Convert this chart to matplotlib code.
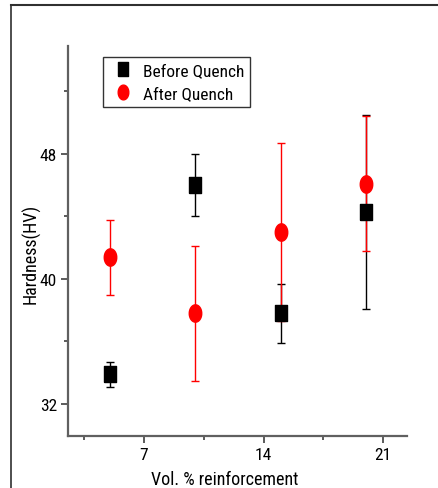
import numpy as np
import matplotlib
matplotlib.use('Agg')
import matplotlib.pyplot as plt
from matplotlib.lines import Line2D

plt.rcParams['font.family'] = ['Roboto Condensed', 'Liberation Sans', 'DejaVu Sans']

# data
vol = [5, 10, 15, 20]
before = [33.9, 46.0, 37.8, 44.3]
before_err = [0.8, 2.0, 1.9, 6.2]
after = [41.4, 37.8, 43.0, 46.1]
after_err = [2.4, 4.3, 5.7, 4.3]
xticks = [7, 14, 21]
yticks = [32, 40, 48]

# tall ellipse marker (the original picture is stretched vertically)
t = np.linspace(0, 2*np.pi, 40)
ell = list(zip(0.72*np.cos(t), np.sin(t)))
sq = [(-0.7, -1), (0.7, -1), (0.7, 1), (-0.7, 1), (-0.7, -1)]

fig = plt.figure(figsize=(4.38, 4.89), dpi=100)
ax = fig.add_axes([68/438, 1-437/489, 339/438, 390/489])

ax.errorbar(vol, before, yerr=before_err, fmt='none', ecolor='black', elinewidth=1, capsize=3, capthick=1)
ax.errorbar(vol, after, yerr=after_err, fmt='none', ecolor='red', elinewidth=1, capsize=3, capthick=1)
ax.plot(vol, before, linestyle='none', marker=sq, markersize=12, color='black', label='Before Quench')
ax.plot(vol, after, linestyle='none', marker=ell, markersize=12.5, color='red', label='After Quench')

ax.set_xlim(2.55, 22.4)
ax.set_ylim(29.95, 54.9)
ax.set_xticks(xticks)
ax.set_xticks([3.5, 10.5, 17.5], minor=True)
ax.set_yticks(yticks)
ax.set_yticks([36, 44, 52], minor=True)

for s in ['top', 'right']:
    ax.spines[s].set_visible(False)
for s in ['left', 'bottom']:
    ax.spines[s].set_color('#606060')
    ax.spines[s].set_linewidth(1.6)
ax.tick_params(which='major', direction='out', length=5, width=1.2, color='#404040', labelsize=12.5, pad=3)
ax.tick_params(which='minor', direction='out', length=3, width=1.2, color='#404040')

ax.set_xlabel('Vol. % reinforcement', fontsize=13)
ax.set_ylabel('Hardness(HV)', fontsize=13)
ax.xaxis.set_label_coords(0.462, -0.087)
ax.yaxis.set_label_coords(-0.08, 0.469)

leg = ax.legend(loc='upper left', bbox_to_anchor=(0.103, 0.972), borderaxespad=0,
                fontsize=12.5, frameon=True, fancybox=False, handlelength=1.6,
                handletextpad=0.35, borderpad=0.35, labelspacing=0.46, markerscale=0.85)
leg.get_frame().set_edgecolor('black')
leg.get_frame().set_linewidth(1)

# outer frame lines from the original picture
fig.add_artist(Line2D([11/438, 1], [1-6/489, 1-6/489], color='#303030', lw=1.5))
fig.add_artist(Line2D([11/438, 11/438], [0, 1-6/489], color='#303030', lw=1.2))

fig.savefig('out.png', dpi=100)
